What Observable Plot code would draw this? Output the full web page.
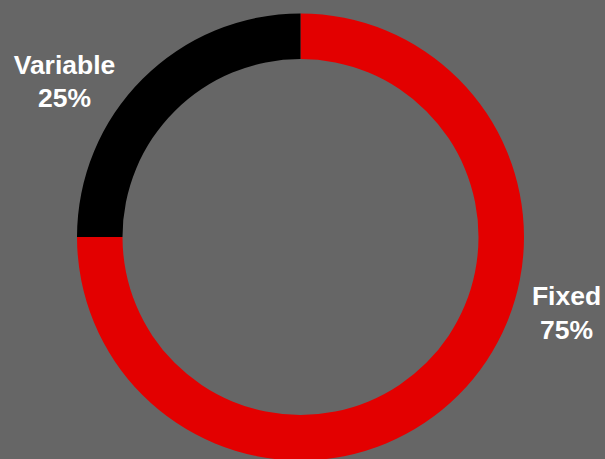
<!DOCTYPE html>
<html>
<head>
<meta charset="utf-8">
<script src="https://cdn.jsdelivr.net/npm/d3@7"></script>
<script src="https://cdn.jsdelivr.net/npm/@observablehq/plot@0.6"></script>
<style>
  html, body { margin: 0; padding: 0; background: #666666; }
  #chart svg { display: block; }
</style>
</head>
<body>
<div id="chart"></div>
<script>
// Data
const categories = ["Fixed", "Variable"];
const shares = [75, 25];
const colors = ["#e30000", "#000000"];

const data = categories.map((c, i) => ({category: c, share: shares[i], color: colors[i]}));

// Layout (pixel coordinates)
const W = 605, H = 459;
const center = {x: 300.5, y: 237};
const outerR = 223.5, innerR = 178;
const labelPos = {Fixed: {x: 566, y: 338}, Variable: {x: 64, y: 106.5}};

const pie = d3.pie().sort(null).value(d => d.share);
const arcs = pie(data);

function donut(index, scales) {
  const g = d3.create("svg:g");
  const cx = scales.x(center.x), cy = scales.y(center.y);
  const arc = d3.arc().innerRadius(innerR).outerRadius(outerR);
  g.selectAll("path")
    .data(arcs)
    .join("path")
    .attr("transform", `translate(${cx},${cy})`)
    .attr("d", arc)
    .attr("fill", d => d.data.color);
  return g.node();
}

const labels = data.map(d => ({
  text: `${d.category}\n${d.share}%`,
  x: labelPos[d.category].x,
  y: labelPos[d.category].y
}));

const chart = Plot.plot({
  width: W,
  height: H,
  margin: 0,
  x: {domain: [0, W], axis: null},
  y: {domain: [0, H], reverse: true, axis: null},
  style: {background: "#666666", fontFamily: "'Liberation Sans', Arial, sans-serif"},
  marks: [
    donut,
    Plot.text(labels, {
      x: "x", y: "y", text: "text",
      fill: "white",
      fontSize: 26.5,
      fontWeight: "bold",
      fontFamily: "'Liberation Sans', Arial, sans-serif",
      textAnchor: "middle",
      lineAnchor: "bottom",
      lineHeight: 1.25
    })
  ]
});

document.getElementById("chart").appendChild(chart);
</script>
</body>
</html>
